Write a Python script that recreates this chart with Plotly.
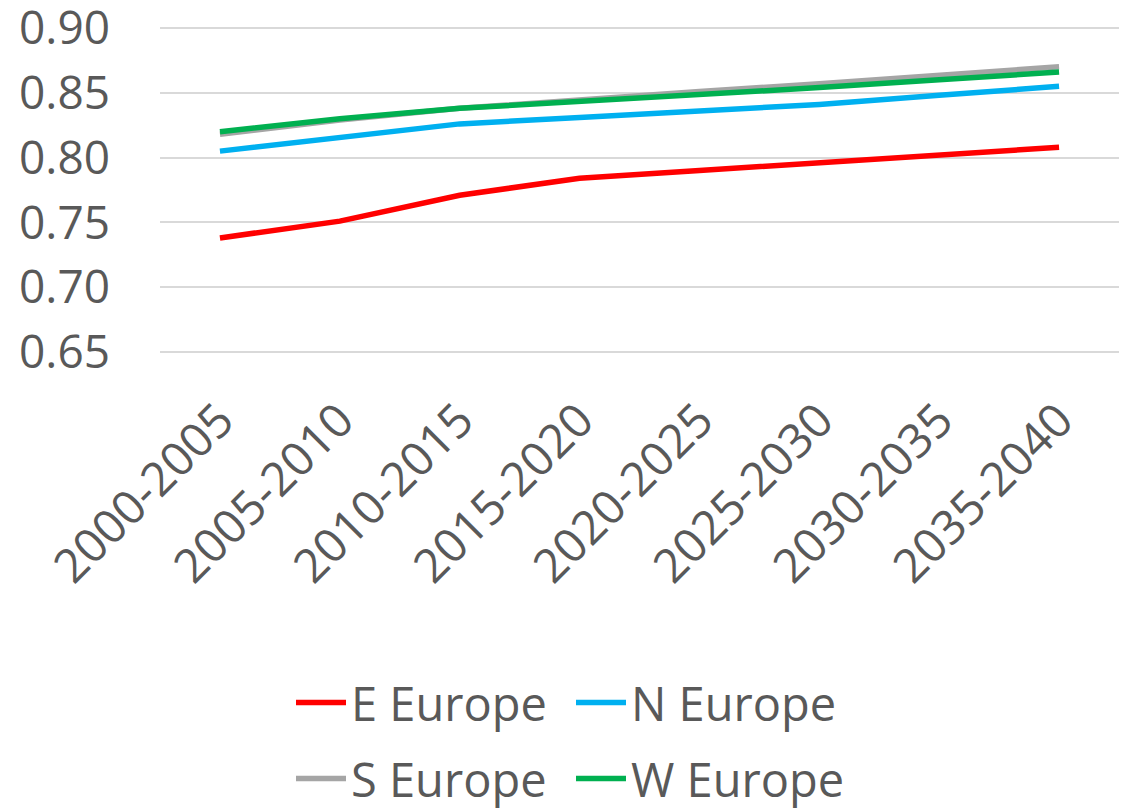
import plotly.graph_objects as go

periods = ["2000-2005", "2005-2010", "2010-2015", "2015-2020",
           "2020-2025", "2025-2030", "2030-2035", "2035-2040"]

e_europe = [0.738, 0.751, 0.771, 0.784, 0.790, 0.796, 0.802, 0.808]
n_europe = [0.805, 0.816, 0.826, 0.831, 0.836, 0.841, 0.848, 0.855]
s_europe = [0.818, 0.829, 0.838, 0.845, 0.851, 0.857, 0.863, 0.870]
w_europe = [0.820, 0.830, 0.838, 0.843, 0.848, 0.854, 0.860, 0.866]

y_ticks = [0.65, 0.70, 0.75, 0.80, 0.85, 0.90]

series = [
    ("E Europe", e_europe, "#FF0000", "legend"),
    ("N Europe", n_europe, "#00B0F0", "legend"),
    ("S Europe", s_europe, "#A5A5A5", "legend2"),
    ("W Europe", w_europe, "#00B050", "legend2"),
]

FONT = "Open Sans"
TXT = "#595959"

fig = go.Figure()
for name, vals, color, leg in series:
    fig.add_trace(go.Scatter(
        x=periods, y=vals, name=name, mode="lines",
        line=dict(color=color, width=5.5),
        legend=leg,
    ))

# two legends, one per row, so the entries sit 2 x 2 like the original
legend_common = dict(
    orientation="h", xref="container", yref="container",
    xanchor="left", yanchor="middle",
    font=dict(family=FONT, size=47, color=TXT),
    entrywidth=215, entrywidthmode="pixels",
    itemwidth=50, bgcolor="rgba(0,0,0,0)",
)

# small pad so the 0.65 / 0.90 gridlines are not dropped at the plot edges
pad = 0.0015

fig.update_layout(
    width=1132, height=811,
    margin=dict(l=152, r=21, t=18, b=465),
    paper_bgcolor="white", plot_bgcolor="white",
    font=dict(family=FONT, size=46, color=TXT),
    showlegend=True,
    legend=dict(x=283 / 1132, y=1 - 695 / 811, **legend_common),
    legend2=dict(x=283 / 1132, y=1 - 771 / 811, **legend_common),
    xaxis=dict(
        type="category", range=[-0.5, len(periods) - 0.5],
        showgrid=False, zeroline=False, automargin=False,
        showline=False, tickangle=-45, ticks="",
        tickfont=dict(family=FONT, size=47, color=TXT),
        ticklabelstandoff=28,
    ),
    yaxis=dict(
        range=[y_ticks[0] - pad, y_ticks[-1] + pad], tickvals=y_ticks,
        tickformat=".2f", automargin=False, ticklabeloverflow="allow",
        showgrid=True, gridcolor="#D9D9D9", gridwidth=2,
        zeroline=False, showline=False, ticks="",
        tickfont=dict(family=FONT, size=46, color=TXT),
        ticklabelstandoff=49,
    ),
)

fig.write_html("out.html")
